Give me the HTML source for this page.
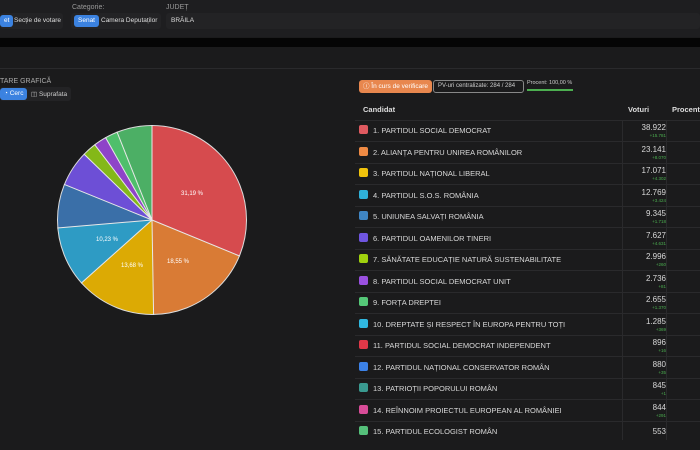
<!DOCTYPE html>
<html><head><meta charset="utf-8"><style>
body{margin:0;width:700px;height:450px;overflow:hidden;background:#1b1b1c;font-family:"Liberation Sans",sans-serif;color:#ddd;position:relative}
.a{position:absolute}
.btn{position:absolute;font-size:6.5px;border-radius:3px;padding:0 4px;height:12px;line-height:12px;white-space:nowrap}
.row{position:absolute;left:355px;width:345px;height:21px;border-bottom:1px solid #2a2a2c;font-size:7.5px;color:#d8d8d8}
.row .sw{position:absolute;left:4px;top:5px;width:9px;height:9px;border-radius:2px}
.row .t{position:absolute;left:18px;top:6px}
.row .v{position:absolute;right:34px;top:3px;font-size:8px;text-align:right}
.row .d{position:absolute;right:34px;top:13px;font-size:4.5px;color:#4caf50}
</style></head><body>
<div class="a" style="left:0;top:0;width:700px;height:37px;background:#1e1e20"></div>
<div class="a" style="left:0;top:38px;width:700px;height:9px;background:#050505"></div>
<div class="a" style="left:72px;top:4px;font-size:7px;color:#999">Categorie:</div>
<div class="a" style="left:166px;top:4px;font-size:7px;color:#999">JUDEȚ</div>
<div class="a" style="left:0;top:13px;width:63px;height:16px;background:#232325;border-radius:3px"></div>
<div class="btn" style="left:0;top:15px;background:#3b82e0;color:#fff">et</div>
<div class="a" style="left:14px;top:17px;font-size:6.5px;color:#ddd">Secție de votare</div>
<div class="a" style="left:71px;top:13px;width:90px;height:16px;background:#232325;border-radius:3px"></div>
<div class="btn" style="left:74px;top:15px;background:#3b82e0;color:#fff">Senat</div>
<div class="a" style="left:101px;top:17px;font-size:6.5px;color:#ddd">Camera Deputaților</div>
<div class="a" style="left:166px;top:13px;width:534px;height:16px;background:#232325;border-radius:3px"></div>
<div class="a" style="left:171px;top:17px;font-size:6.5px;color:#ddd">BRĂILA</div>
<div class="a" style="left:0;top:68px;width:700px;height:1px;background:#2a2a2c"></div>
<div class="a" style="left:0;top:78px;font-size:7px;color:#aaa">TARE GRAFICĂ</div>
<div class="a" style="left:0;top:87px;width:71px;height:14px;background:#232325;border-radius:3px"></div>
<div class="btn" style="left:0;top:88px;background:#3b82e0;color:#fff">◔ Cerc</div>
<div class="a" style="left:31px;top:90px;font-size:6.5px;color:#ccc">◫ Suprafata</div>
<div class="a" style="left:57px;top:125px;width:190px;height:190px;border-radius:50%;border:1px solid #ddd;box-sizing:border-box;background:conic-gradient(#d64b4e 0 31.19%,#d97b35 31.19% 49.74%,#dcaa04 49.74% 63.42%,#2e9bc4 63.42% 73.65%,#3a6fa8 73.65% 81.14%,#6d4fd6 81.14% 87.25%,#84b818 87.25% 89.65%,#8e44c8 89.65% 91.84%,#4fbf6b 91.84% 93.97%,#4caf65 93.97% 100%)"></div>
<svg class="a" style="left:57px;top:125px" width="190" height="190"><g stroke="#e8e8e8" stroke-width="1">
<line x1="95" y1="95" x2="95" y2="0"/><line x1="95" y1="95" x2="182.9" y2="131.1"/><line x1="95" y1="95" x2="96.6" y2="190"/><line x1="95" y1="95" x2="24.1" y2="158.2"/><line x1="95" y1="95" x2="0.3" y2="103"/><line x1="95" y1="95" x2="7" y2="59.3"/><line x1="95" y1="95" x2="26.8" y2="28.9"/><line x1="95" y1="95" x2="37.5" y2="19.4"/><line x1="95" y1="95" x2="48.4" y2="12.2"/><line x1="95" y1="95" x2="59.9" y2="6.7"/></g>
<g fill="#fff" font-size="6" font-family="Liberation Sans" text-anchor="middle"><text x="135" y="70">31,19 %</text><text x="121" y="138">18,55 %</text><text x="75" y="142">13,68 %</text><text x="50" y="116">10,23 %</text></g></svg>
<div class="btn" style="left:359px;top:80px;width:65px;height:13px;line-height:13px;background:#e8874e;color:#fff">ⓘ În curs de verificare</div>
<div class="btn" style="left:433px;top:80px;width:81px;height:11px;line-height:11px;border:1px solid #888;color:#ccc;font-size:6px">PV-uri centralizate: 284 / 284</div>
<div class="a" style="left:527px;top:80px;font-size:5.5px;color:#ccc">Procent: 100,00 %</div>
<div class="a" style="left:527px;top:89px;width:46px;height:2px;background:#4caf50"></div>
<div class="a" style="left:355px;top:98px;width:345px;height:22px;border-bottom:1px solid #2a2a2c;font-size:7.5px;font-weight:bold;color:#ddd"><span class="a" style="left:8px;top:7px">Candidat</span><span class="a" style="left:273px;top:7px">Voturi</span><span class="a" style="left:317px;top:7px">Procent(</span></div>
<div class="a" style="left:622px;top:120px;width:1px;height:320px;background:#2a2a2c"></div>
<div class="a" style="left:666px;top:120px;width:1px;height:320px;background:#2a2a2c"></div>
<div class="row" style="top:120px"><div class="sw" style="background:#e05a60"></div><div class="t">1. PARTIDUL SOCIAL DEMOCRAT</div><div class="v">38.922</div><div class="d">+15.781</div></div>
<div class="row" style="top:141.5px"><div class="sw" style="background:#ee8a44"></div><div class="t">2. ALIANȚA PENTRU UNIREA ROMÂNILOR</div><div class="v">23.141</div><div class="d">+8.070</div></div>
<div class="row" style="top:163px"><div class="sw" style="background:#f0c30c"></div><div class="t">3. PARTIDUL NAȚIONAL LIBERAL</div><div class="v">17.071</div><div class="d">+4.302</div></div>
<div class="row" style="top:184.5px"><div class="sw" style="background:#2fb0d8"></div><div class="t">4. PARTIDUL S.O.S. ROMÂNIA</div><div class="v">12.769</div><div class="d">+3.424</div></div>
<div class="row" style="top:206px"><div class="sw" style="background:#3f86c4"></div><div class="t">5. UNIUNEA SALVAȚI ROMÂNIA</div><div class="v">9.345</div><div class="d">+1.718</div></div>
<div class="row" style="top:227.5px"><div class="sw" style="background:#6f55e0"></div><div class="t">6. PARTIDUL OAMENILOR TINERI</div><div class="v">7.627</div><div class="d">+4.631</div></div>
<div class="row" style="top:249px"><div class="sw" style="background:#9fd10e"></div><div class="t">7. SĂNĂTATE EDUCAȚIE NATURĂ SUSTENABILITATE</div><div class="v">2.996</div><div class="d">+260</div></div>
<div class="row" style="top:270.5px"><div class="sw" style="background:#9a50e0"></div><div class="t">8. PARTIDUL SOCIAL DEMOCRAT UNIT</div><div class="v">2.736</div><div class="d">+81</div></div>
<div class="row" style="top:292px"><div class="sw" style="background:#55c878"></div><div class="t">9. FORȚA DREPTEI</div><div class="v">2.655</div><div class="d">+1.370</div></div>
<div class="row" style="top:313.5px"><div class="sw" style="background:#30b8e0"></div><div class="t">10. DREPTATE ȘI RESPECT ÎN EUROPA PENTRU TOȚI</div><div class="v">1.285</div><div class="d">+369</div></div>
<div class="row" style="top:335px"><div class="sw" style="background:#e03848"></div><div class="t">11. PARTIDUL SOCIAL DEMOCRAT INDEPENDENT</div><div class="v">896</div><div class="d">+16</div></div>
<div class="row" style="top:356.5px"><div class="sw" style="background:#3c82e8"></div><div class="t">12. PARTIDUL NAȚIONAL CONSERVATOR ROMÂN</div><div class="v">880</div><div class="d">+35</div></div>
<div class="row" style="top:378px"><div class="sw" style="background:#3a9a90"></div><div class="t">13. PATRIOȚII POPORULUI ROMÂN</div><div class="v">845</div><div class="d">+1</div></div>
<div class="row" style="top:399.5px"><div class="sw" style="background:#d84c98"></div><div class="t">14. REÎNNOIM PROIECTUL EUROPEAN AL ROMÂNIEI</div><div class="v">844</div><div class="d">+291</div></div>
<div class="row" style="top:421px;border-bottom:none"><div class="sw" style="background:#55c07a"></div><div class="t">15. PARTIDUL ECOLOGIST ROMÂN</div><div class="v" style="top:6px">553</div></div>
</body></html>
